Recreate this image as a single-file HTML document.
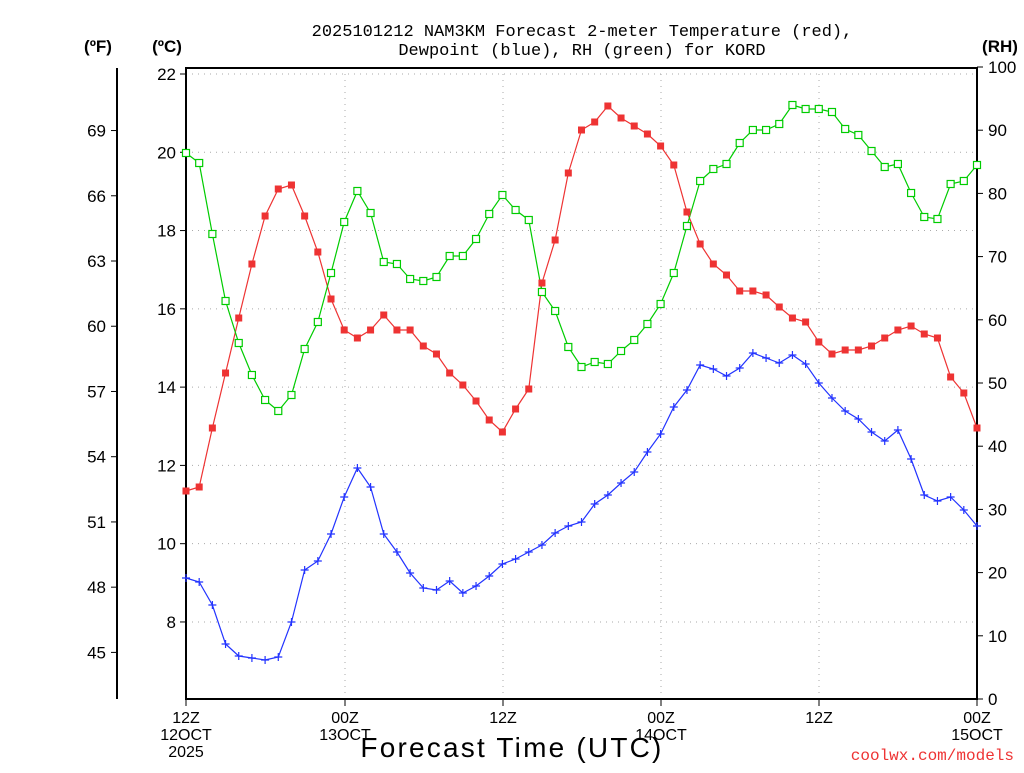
<!DOCTYPE html>
<html><head><meta charset="utf-8"><style>
body{margin:0;background:#fff;width:1024px;height:768px;overflow:hidden}
svg text{font-family:"Liberation Sans",sans-serif}
</style></head><body>
<svg id="s" width="1024" height="768" xmlns="http://www.w3.org/2000/svg"></svg>
<script>
const s=document.getElementById('s');let h='';
const X=i=>186+i*(791/60);
const yC=c=>74+(22-c)*39.14;
const yR=r=>699-r*6.32;
for(let c=8;c<=22;c+=2)h+=`<line x1="186" x2="977" y1="${yC(c)}" y2="${yC(c)}" stroke="#aaa" stroke-dasharray="1,5"/>`;
[345,503,661,819].forEach(x=>h+=`<line x1="${x}" x2="${x}" y1="68" y2="699" stroke="#aaa" stroke-dasharray="1,5"/>`);
h+=`<rect x="186" y="68" width="791" height="631" fill="none" stroke="#000" stroke-width="2"/>`;
h+=`<line x1="117" x2="117" y1="68" y2="699" stroke="#000" stroke-width="2"/>`;
for(let c=8;c<=22;c+=2){let y=yC(c);h+=`<line x1="180" x2="186" y1="${y}" y2="${y}" stroke="#000"/><text x="176" y="${y+6}" text-anchor="end" font-size="17">${c}</text>`;}
for(let f=45;f<=69;f+=3){let y=yC((f-32)*5/9);h+=`<line x1="111" x2="117" y1="${y}" y2="${y}" stroke="#000"/><text x="106" y="${y+6}" text-anchor="end" font-size="17">${f}</text>`;}
for(let r=0;r<=100;r+=10){let y=yR(r);h+=`<line x1="977" x2="983" y1="${y}" y2="${y}" stroke="#000"/><text x="988" y="${y+6}" font-size="17">${r}</text>`;}
[186,345,503,661,819,977].forEach(x=>h+=`<line x1="${x}" x2="${x}" y1="699" y2="706" stroke="#000"/>`);
const lab=[[186,'12Z','12OCT','2025'],[345,'00Z','13OCT'],[503,'12Z'],[661,'00Z','14OCT'],[819,'12Z'],[977,'00Z','15OCT']];
lab.forEach(l=>{for(let k=1;k<l.length;k++)h+=`<text x="${l[0]}" y="${723+(k-1)*17}" text-anchor="middle" font-size="16">${l[k]}</text>`;});
h+=`<text x="512" y="757" text-anchor="middle" font-size="28" letter-spacing="2.2">Forecast Time (UTC)</text>`;
h+=`<text x="1014" y="760" text-anchor="end" font-size="16" fill="#e33" style="font-family:'Liberation Mono',monospace">coolwx.com/models</text>`;
h+=`<text x="582" y="36" text-anchor="middle" font-size="17" style="font-family:'Liberation Mono',monospace">2025101212 NAM3KM Forecast 2-meter Temperature (red),</text>`;
h+=`<text x="582" y="55" text-anchor="middle" font-size="17" style="font-family:'Liberation Mono',monospace">Dewpoint (blue), RH (green) for KORD</text>`;
h+=`<text x="98" y="52" text-anchor="middle" font-size="17" font-weight="bold">(ºF)</text><text x="167" y="52" text-anchor="middle" font-size="17" font-weight="bold">(ºC)</text><text x="1000" y="52" text-anchor="middle" font-size="17" font-weight="bold">(RH)</text>`;
const red=[491,487,428,373,318,264,216,189,185,216,252,299,330,338,330,315,330,330,346,354,373,385,401,420,432,409,389,283,240,173,130,122,106,118,126,134,146,165,212,244,264,275,291,291,295,307,318,322,342,354,350,350,346,338,330,326,334,338,377,393,428];
const grn=[153,163,234,301,343,375,400,411,395,349,322,273,222,191,213,262,264,279,281,277,256,256,239,214,195,210,220,292,311,347,367,362,364,351,340,324,304,273,226,181,169,164,143,130,130,124,105,109,109,112,129,135,151,167,164,193,217,219,184,181,165];
const blu=[578,582,605,644,656,658,660,657,622,570,561,534,497,468,487,534,552,573,588,590,581,593,586,576,564,559,552,545,533,526,522,504,495,483,472,452,434,407,390,365,369,376,368,353,358,363,355,364,383,398,411,419,432,441,430,459,495,501,497,510,526];
const poly=(a,c)=>`<polyline fill="none" stroke="${c}" stroke-width="1.2" points="${a.map((y,i)=>X(i)+','+y).join(' ')}"/>`;
h+=poly(red,'#e33')+poly(grn,'#0c0')+poly(blu,'#23f');
red.forEach((y,i)=>h+=`<rect x="${X(i)-3.5}" y="${y-3.5}" width="7" height="7" fill="#e33"/>`);
grn.forEach((y,i)=>h+=`<rect x="${X(i)-3.5}" y="${y-3.5}" width="7" height="7" fill="#fff" stroke="#0c0" stroke-width="1.2"/>`);
blu.forEach((y,i)=>h+=`<path d="M${X(i)-4} ${y}h8M${X(i)} ${y-4}v8" stroke="#23f" stroke-width="1.2"/>`);
s.innerHTML=h;
</script>
</body></html>
